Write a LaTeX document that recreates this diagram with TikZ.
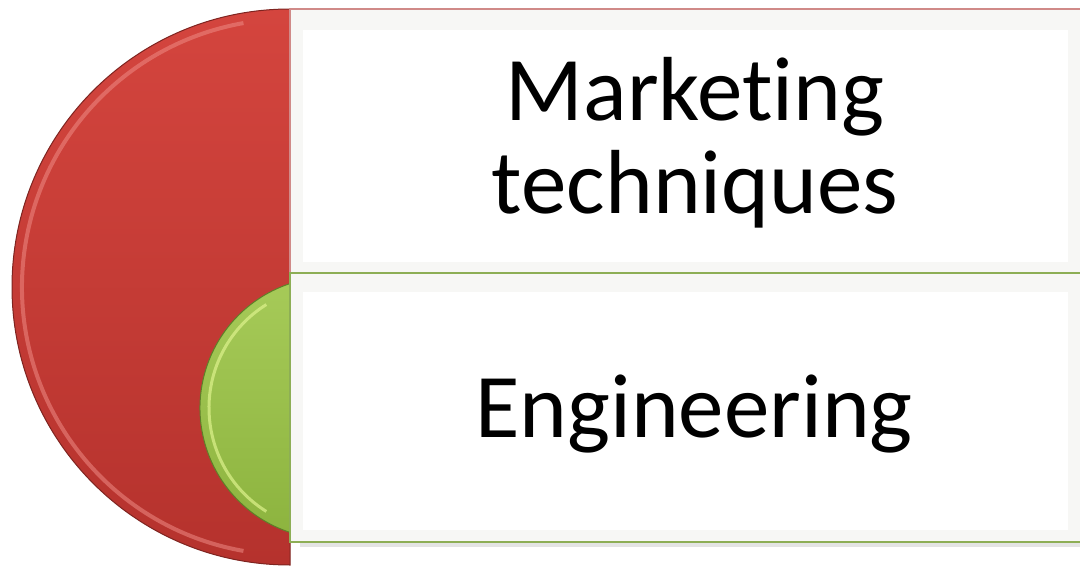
\documentclass[tikz,border=0pt]{standalone}
\usepackage{fontspec}
\setmainfont{Carlito}[Ligatures={NoCommon,NoRare,NoContextual},Contextuals=NoAlternate]
\definecolor{redtop}{HTML}{D4453E}
\definecolor{redbot}{HTML}{B5322D}
\definecolor{redline}{HTML}{7E2420}
\definecolor{redhi}{HTML}{EE8A84}
\definecolor{greentop}{HTML}{A6CA58}
\definecolor{greenbot}{HTML}{8DB43F}
\definecolor{greenline}{HTML}{5E7F28}
\definecolor{greenhi}{HTML}{DDF28C}
\definecolor{boxred}{HTML}{D08A88}
\definecolor{boxgreen}{HTML}{8DAE55}
\definecolor{bevel}{HTML}{F7F7F5}
\tikzset{
  label text/.style={font=\fontsize{91}{93}\selectfont, text=black, inner sep=0pt, anchor=base},
  boxframe/.style={fill=bevel, line width=1.6pt},
  boxinner/.style={fill=white, draw=none},
}
\begin{document}
\begin{tikzpicture}[x=1pt,y=-1pt]
\useasboundingbox (0,0) rectangle (1080,570);
\clip (0,0) rectangle (1080,570);
% red half disc
\coordinate (rc) at (290,287);
\shade[top color=redtop, bottom color=redbot, draw=redline, line width=1pt]
  (rc) ++(90:278) arc[start angle=90, end angle=270, radius=278] -- cycle;
\draw[redhi, line width=4pt, opacity=0.55]
  (rc) ++(100:268) arc[start angle=100, end angle=260, radius=268];
% green half disc
\coordinate (gc) at (331,408);
\shade[top color=greentop, bottom color=greenbot, draw=greenline, line width=1pt]
  (gc) ++(108.2:131) arc[start angle=108.2, end angle=251.8, radius=131] -- cycle;
\draw[greenhi, line width=3pt, opacity=0.7]
  (gc) ++(122:122) arc[start angle=122, end angle=238, radius=122];
% top box
\draw[boxframe, draw=boxred] (290,9) rectangle (1082,273);
\fill[boxinner] (303,30) rectangle (1068,262);
% bottom box shadow
\fill[black!35, opacity=0.3] (300,542) rectangle (1080,547);
% bottom box
\draw[boxframe, draw=boxgreen] (290,273) rectangle (1082,542);
\fill[boxinner] (303,292) rectangle (1068,530);
% texts
\node[label text] (mk) at (695,120) {Market\kern0pt ing};
\node[label text] (tq) at (695,213) {techniques};
\node[label text] (en) at (694,437) {Engineering};
\end{tikzpicture}
\end{document}
